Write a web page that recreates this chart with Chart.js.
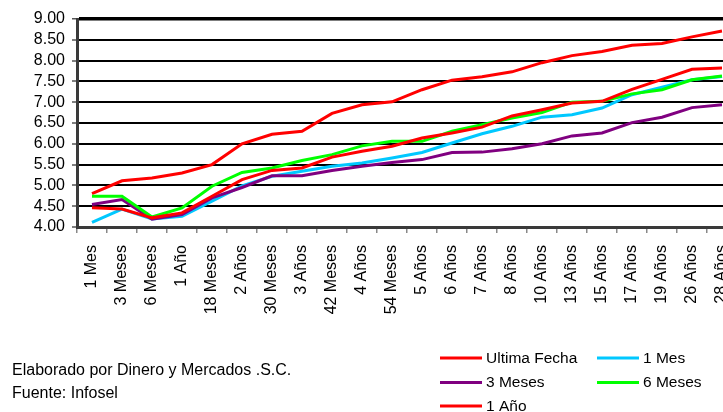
<!DOCTYPE html>
<html>
<head>
<meta charset="utf-8">
<script src="https://cdn.jsdelivr.net/npm/chart.js@4/dist/chart.umd.min.js"></script>
<style>
  html, body { margin: 0; padding: 0; background: #fff; width: 723px; height: 412px; overflow: hidden; }
  #wrap { position: absolute; left: 0; top: 0; width: 745px; height: 412px; }
</style>
</head>
<body>
<div id="wrap"><canvas id="c" width="745" height="412"></canvas></div>
<script>
// Plazos de la curva
const plazos = ['1 Mes', '3 Meses', '6 Meses', '1 Año', '18 Meses', '2 Años', '30 Meses', '3 Años',
  '42 Meses', '4 Años', '54 Meses', '5 Años', '6 Años', '7 Años', '8 Años', '10 Años', '13 Años',
  '15 Años', '17 Años', '19 Años', '26 Años', '28 Años'];

// Tasas (%) por fecha de referencia
const ultimaFecha = [4.80, 5.11, 5.18, 5.30, 5.50, 6.00, 6.23, 6.30, 6.73, 6.94, 7.01, 7.30, 7.53, 7.61, 7.73, 7.95, 8.12, 8.22, 8.37, 8.41, 8.57, 8.71];
const unMes       = [4.11, 4.43, 4.19, 4.26, 4.62, 4.99, 5.22, 5.34, 5.46, 5.54, 5.66, 5.79, 6.02, 6.24, 6.42, 6.64, 6.70, 6.86, 7.18, 7.36, 7.54, 7.62];
const tresMeses   = [4.54, 4.66, 4.19, 4.30, 4.70, 4.95, 5.23, 5.23, 5.36, 5.46, 5.55, 5.62, 5.79, 5.80, 5.88, 6.00, 6.19, 6.26, 6.51, 6.64, 6.87, 6.94];
const seisMeses   = [4.74, 4.74, 4.24, 4.46, 4.98, 5.31, 5.42, 5.60, 5.74, 5.95, 6.06, 6.06, 6.30, 6.46, 6.62, 6.75, 7.00, 7.02, 7.20, 7.30, 7.54, 7.63];
const unAnio      = [4.46, 4.43, 4.22, 4.34, 4.74, 5.14, 5.36, 5.42, 5.68, 5.82, 5.94, 6.14, 6.26, 6.40, 6.67, 6.82, 6.98, 7.02, 7.31, 7.55, 7.79, 7.82];

const serieNombres = ['Ultima Fecha', '1 Mes', '3 Meses', '6 Meses', '1 Año'];
const serieValores = [ultimaFecha, unMes, tresMeses, seisMeses, unAnio];
const serieColores = ['#ff0000', '#00c8ff', '#800080', '#00ff00', '#ff0000'];

const notaElaborado = 'Elaborado por Dinero y Mercados .S.C.';
const notaFuente = 'Fuente: Infosel';

const FONT = '"Liberation Sans", Arial, sans-serif';

// Leyenda y notas al pie
const pieDeGrafica = {
  id: 'pieDeGrafica',
  afterDraw(chart) {
    const ctx = chart.ctx;
    ctx.save();
    ctx.font = '16px ' + FONT;
    ctx.fillStyle = '#000';
    ctx.textBaseline = 'alphabetic';
    ctx.textAlign = 'left';
    ctx.fillText(notaElaborado, 12, 375);
    ctx.fillText(notaFuente, 12, 398);

    const cols = [440, 597];
    const rows = [358, 382.5, 406];
    ctx.font = '15.5px ' + FONT;
    ctx.textBaseline = 'middle';
    chart.data.datasets.forEach((ds, i) => {
      const x = cols[i % 2];
      const y = rows[Math.floor(i / 2)];
      ctx.strokeStyle = ds.borderColor;
      ctx.lineWidth = 3;
      ctx.beginPath();
      ctx.moveTo(x, y);
      ctx.lineTo(x + 42, y);
      ctx.stroke();
      ctx.fillText(ds.label, x + 46, y + 0.5);
    });
    ctx.restore();
  }
};

const datasets = serieNombres.map((nombre, i) => ({
  label: nombre,
  data: serieValores[i],
  borderColor: serieColores[i],
  backgroundColor: serieColores[i],
  borderWidth: 3,
  pointRadius: 0,
  tension: 0,
  fill: false,
  order: serieNombres.length - i
}));

new Chart(document.getElementById('c'), {
  type: 'line',
  data: { labels: plazos, datasets },
  plugins: [pieDeGrafica],
  options: {
    responsive: false,
    animation: false,
    devicePixelRatio: 1,
    layout: { padding: { top: 19, left: 0, right: 8, bottom: 0 } },
    plugins: { legend: { display: false }, tooltip: { enabled: false } },
    scales: {
      y: {
        min: 4, max: 9,
        ticks: {
          stepSize: 0.5,
          autoSkip: false,
          color: '#000',
          font: { family: FONT, size: 16 },
          padding: 7,
          callback: v => Number(v).toFixed(2)
        },
        grid: {
          color: '#000',
          lineWidth: c => (c.tick && c.tick.value === 9 ? 3.5 : 2),
          tickLength: 5,
          tickColor: '#555',
          tickWidth: 1.5
        },
        border: { display: true, color: '#3a3a3a', width: 3 },
        afterFit: s => { s.width = 77; s.paddingTop = 0; s.paddingBottom = 0; }
      },
      x: {
        offset: true,
        ticks: {
          autoSkip: false,
          maxRotation: 90,
          minRotation: 90,
          color: '#000',
          font: { family: FONT, size: 16 },
          padding: 12
        },
        grid: {
          offset: true,
          drawOnChartArea: false,
          drawTicks: true,
          tickLength: 6,
          tickColor: '#888',
          lineWidth: 1.5
        },
        border: { display: true, color: '#3a3a3a', width: 3 },
        afterFit: s => { s.height = 412 - 227; s.paddingLeft = 0; s.paddingRight = 0; }
      }
    }
  }
});
</script>
</body>
</html>
